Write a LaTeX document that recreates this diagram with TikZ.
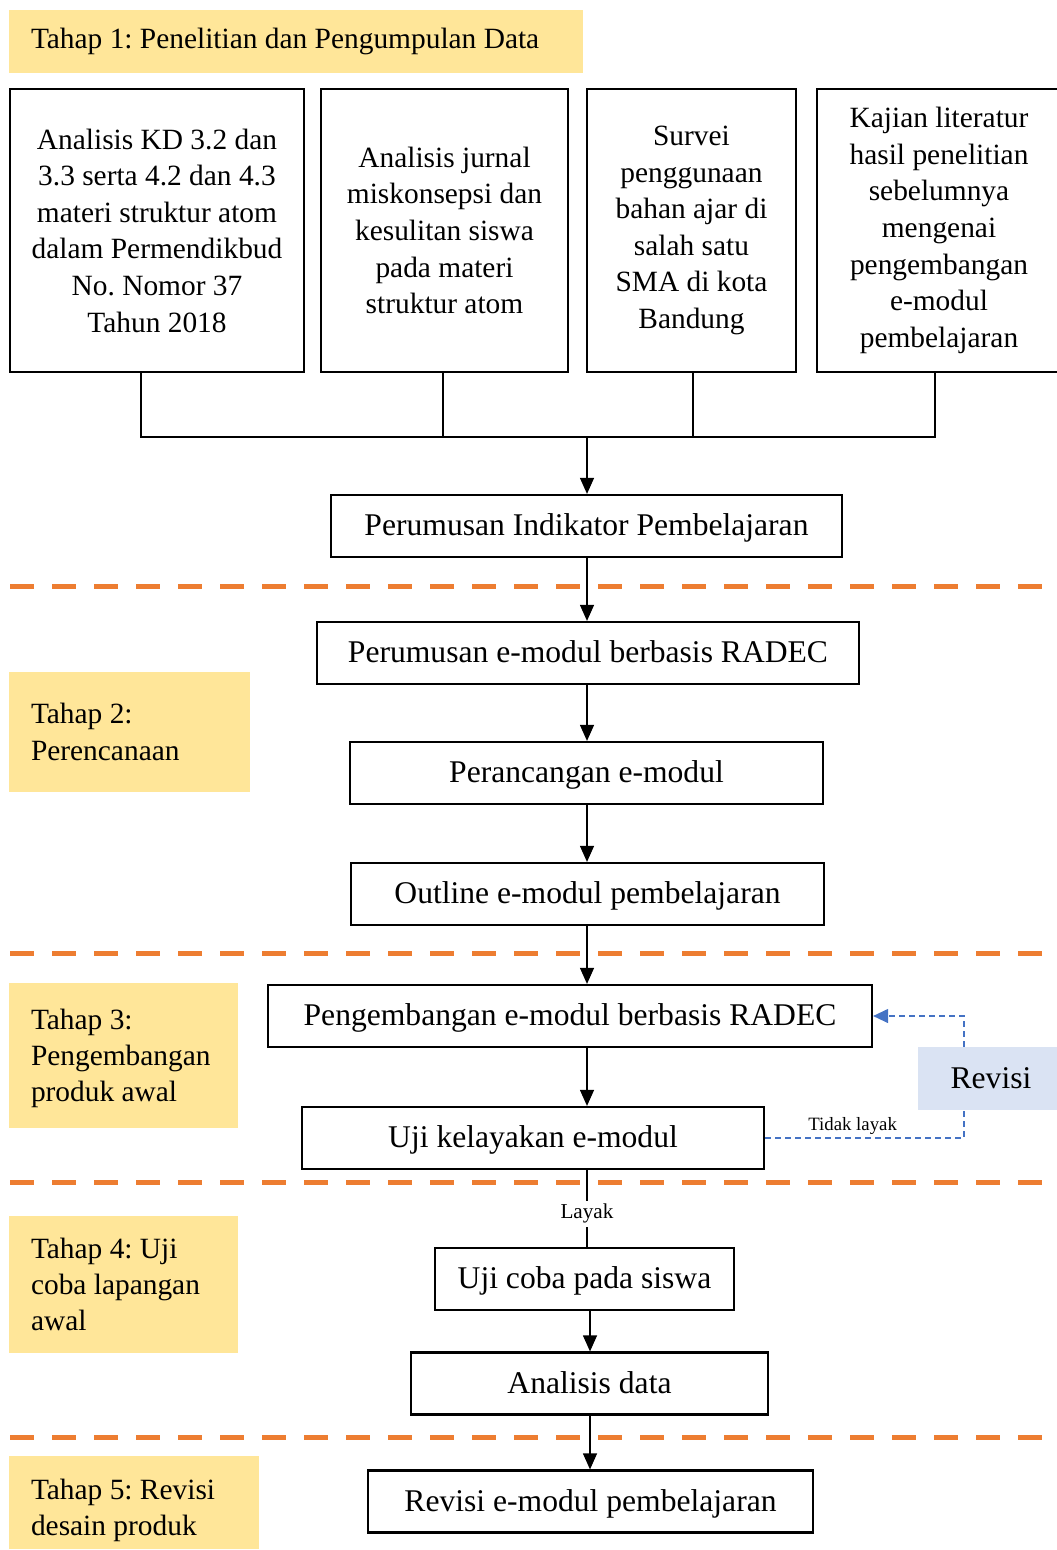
\documentclass[tikz,border=0pt]{standalone}
\usepackage{fontspec}
\setmainfont{Liberation Serif}
\usetikzlibrary{positioning,arrows.meta}
\definecolor{tahapy}{HTML}{FFE699}
\definecolor{revb}{HTML}{DAE3F3}
\definecolor{sepo}{HTML}{ED7D31}
\definecolor{revl}{HTML}{4472C4}
\frenchspacing
\begin{document}
\begin{tikzpicture}[
  x=0.5pt, y=-0.5pt,
  font=\fontsize{15.8}{18}\selectfont,
  frame/.style={rectangle, draw=black, line width=1.1pt, inner sep=0pt,
                fill=white, align=center},
  box/.style={frame, minimum height=31pt, text height=13.4pt, text depth=3.6pt},
  src/.style={frame, minimum height=141.5pt, font=\fontsize{14.7}{18.3}\selectfont},
  tahap/.style={rectangle, fill=tahapy, inner sep=0pt},
  tahaptx/.style={anchor=west, inner sep=0pt, align=left, font=\fontsize{14.7}{18.2}\selectfont},
  revbox/.style={rectangle, fill=revb, minimum width=70pt, minimum height=31.5pt, inner sep=0pt},
  ln/.style={draw=black, line width=0.6pt},
  arr/.style={ln, -{Triangle[length=8pt,width=7pt]}},
  sep/.style={draw=sepo, line width=2.5pt, dash pattern=on 12pt off 9pt},
  rvl/.style={draw=revl, line width=0.6pt, dash pattern=on 3pt off 2pt,
              -{Triangle[length=7.5pt,width=7pt]}},
  lbl/.style={inner sep=1.5pt}
]
\useasboundingbox (0,0) rectangle (1056,1550);

% separators between stages
\foreach \sy in {586,953,1182,1437}
  \draw[sep] (10,\sy) -- (1045,\sy);

% stage labels
\node[tahap, minimum width=287pt, minimum height=31.5pt] (t1) at (296,41.5) {};
\node[tahaptx] (t1x) at ([xshift=11pt]t1.west) {Tahap 1: Penelitian dan Pengumpulan Data};
\node[tahap, minimum width=120.5pt, minimum height=60pt] (t2) at (129.5,732) {};
\node[tahaptx] (t2x) at ([xshift=11pt]t2.west) {Tahap 2:\\ Perencanaan};
\node[tahap, minimum width=114.5pt, minimum height=72.5pt] (t3) at (123.5,1055.5) {};
\node[tahaptx] (t3x) at ([xshift=11pt,yshift=-1.5pt]t3.west) {Tahap 3:\\ Pengembangan\\ produk awal};
\node[tahap, minimum width=114.5pt, minimum height=68.5pt] (t4) at (123.5,1284.5) {};
\node[tahaptx] (t4x) at ([xshift=11pt]t4.west) {Tahap 4: Uji\\ coba lapangan\\ awal};
\node[tahap, minimum width=125pt, minimum height=46.5pt] (t5) at (134,1502.5) {};
\node[tahaptx] (t5x) at ([xshift=11pt,yshift=-4pt]t5.west) {Tahap 5: Revisi\\ desain produk};

% sources
\node[src, minimum width=147pt] (kd) at (157,230.5)
  {Analisis KD 3.2 dan\\ 3.3 serta 4.2 dan 4.3\\ materi struktur atom\\ dalam Permendikbud\\ No. Nomor 37\\ Tahun 2018};
\node[src, minimum width=123.5pt] (jur) at (444.5,230.5)
  {Analisis jurnal\\ miskonsepsi dan\\ kesulitan siswa\\ pada materi\\ struktur atom};
\node[src, minimum width=104.5pt] (srv) at (691.5,230.5)
  {Survei\\ penggunaan\\ bahan ajar di\\ salah satu\\ SMA di kota\\ Bandung};
\node[src, minimum width=122pt] (kaj) at (939,230.5)
  {Kajian literatur\\ hasil penelitian\\ sebelumnya\\ mengenai\\ pengembangan\\ e-modul\\ pembelajaran};

% main flow
\node[box, minimum width=255.5pt] (ind)  at (586.5,526)  {Perumusan Indikator Pembelajaran};
\node[box, minimum width=271pt]   (rum)  at (588,653)    {Perumusan e-modul berbasis RADEC};
\node[box, minimum width=236.5pt] (ran)  at (586.5,773)  {Perancangan e-modul};
\node[box, minimum width=236.5pt] (outl) at (587.5,894)  {Outline e-modul pembelajaran};
\node[box, minimum width=302pt]   (dev)  at (570,1016)   {Pengembangan e-modul berbasis RADEC};
\node[box, minimum width=231pt]   (uji)  at (533,1138)   {Uji kelayakan e-modul};
\node[box, minimum width=149.5pt] (coba) at (584.5,1279) {Uji coba pada siswa};
\node[box, minimum width=178.5pt] (ana)  at (589.5,1383.5) {Analisis data};
\node[box, minimum width=222.5pt] (rev)  at (590.5,1501.5) {Revisi e-modul pembelajaran};

\coordinate (jn) at (587,437);
\coordinate (ax) at (587,0);
\coordinate (bx) at (590,0);
\coordinate (rv) at (964,1078);

\draw[ln] ([xshift=-8pt]kd.south) |- (jn);
\draw[ln] ([xshift=-0.75pt]jur.south) |- (jn);
\draw[ln] ([xshift=0.75pt]srv.south) |- (jn);
\draw[ln] ([xshift=-2pt]kaj.south) |- (jn);
\draw[arr] (jn) -- (jn |- ind.north);

\draw[arr] (ax |- ind.south)  -- (ax |- rum.north);
\draw[arr] (ax |- rum.south)  -- (ax |- ran.north);
\draw[arr] (ax |- ran.south)  -- (ax |- outl.north);
\draw[arr] (ax |- outl.south) -- (ax |- dev.north);
\draw[arr] (ax |- dev.south)  -- (ax |- uji.north);
\draw[ln]  (ax |- uji.south)  -- node[lbl, fill=white, pos=0.57, font=\fontsize{10.6}{12}\selectfont] (lay) {Layak} (ax |- coba.north);
\draw[arr] (bx |- coba.south) -- (bx |- ana.north);
\draw[arr] (bx |- ana.south)  -- (bx |- rev.north);

% revision loop
\draw[rvl] (uji.east) -| node[lbl, above, pos=0.22, font=\fontsize{9.4}{11}\selectfont] (tl) {Tidak layak} (rv) |- (dev.east);
\node[revbox] (rvs) at (988,1078.5) {\hspace{3pt}Revisi};
\end{tikzpicture}
\end{document}
